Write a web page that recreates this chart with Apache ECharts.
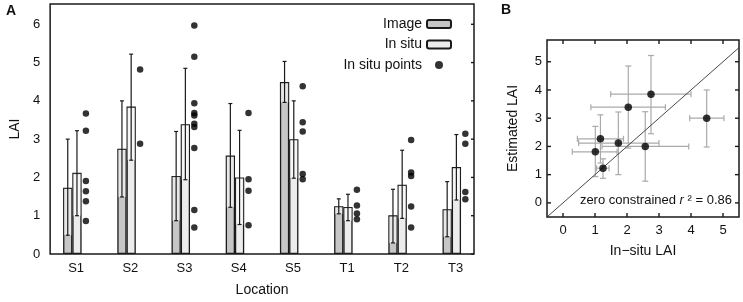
<!DOCTYPE html>
<html>
<head>
<meta charset="utf-8">
<script src="https://cdn.jsdelivr.net/npm/echarts@6/dist/echarts.min.js"></script>
<style>
  html, body { margin: 0; padding: 0; background: #fff; }
  #chart { width: 743px; height: 302px; }
</style>
</head>
<body>
<div id="chart"></div>
<script>
// locations on the x axis of panel A
const locations = ['S1', 'S2', 'S3', 'S4', 'S5', 'T1', 'T2', 'T3']

// image estimate: mean and error range
const imageMean = [1.73, 2.75, 2.04, 2.57, 4.49, 1.25, 1.01, 1.17]
const imageLow = [0.49, 1.49, 0.87, 1.22, 3.96, 1.05, 0.29, 0.45]
const imageHigh = [3.0, 4.0, 3.2, 3.93, 5.03, 1.44, 1.69, 1.89]

// in situ: mean and error range
const insituMean = [2.12, 3.85, 3.39, 2.0, 3.0, 1.23, 1.81, 2.27]
const insituLow = [1.0, 2.45, 1.94, 0.77, 1.98, 0.87, 0.93, 1.41]
const insituHigh = [3.22, 5.22, 4.85, 3.23, 4.0, 1.56, 2.71, 3.12]

// single in situ measurements per location
const insituPoints = [
  [3.67, 3.22, 1.91, 1.64, 1.38, 0.86],
  [4.82, 2.88],
  [5.97, 5.15, 3.94, 3.68, 3.62, 3.4, 3.32, 2.77, 1.15, 0.69],
  [3.68, 1.95, 1.65, 0.75],
  [4.38, 3.44, 3.2, 2.09, 1.95],
  [1.68, 1.27, 1.06, 0.91],
  [2.98, 2.13, 2.04, 1.24, 0.69],
  [3.14, 2.88, 1.62, 1.43]
]

// panel B: zero constrained fit (y = x)
const fitLine = [[-0.5, -0.5], [5.5, 5.5]]
const fitLabel = '0.86'

const tickA = [0, 1, 2, 3, 4, 5, 6]
const tickB = [0, 1, 2, 3, 4, 5]
const locTicks = [1, 2, 3, 4, 5, 6, 7, 8]

// offsets within a location group (axis units)
const imageOff = -0.155
const insituOff = 0.015
const pointsOff = 0.18
const BAR_W = 9.3

const FONT = '"Liberation Sans", Arial, sans-serif'
const INK = '#1a1a1a'

const imageBars = imageMean.map((v, i) => [locTicks[i] + imageOff, v])
const insituBars = insituMean.map((v, i) => [locTicks[i] + insituOff, v])
const imageErr = imageMean.map((v, i) => [locTicks[i] + imageOff, imageLow[i], imageHigh[i], v])
const insituErr = insituMean.map((v, i) => [locTicks[i] + insituOff, insituLow[i], insituHigh[i], v])
const pointData = []
insituPoints.forEach((list, i) => {
  list.forEach(v => pointData.push([locTicks[i] + pointsOff, v]))
})

const scatterB = imageMean.map((v, i) => [v, insituMean[i]])
const errB = imageMean.map((v, i) => [v, insituMean[i], imageLow[i], imageHigh[i], insituLow[i], insituHigh[i]])

// error bar for panel A, with a pale veil over the bar above the lower end
function renderErrA (params, api) {
  const x = api.value(0)
  const lo = api.coord([x, api.value(1)])
  const hi = api.coord([x, api.value(2)])
  const top = api.coord([x, api.value(3)])
  const cap = 2
  const lineStyle = { stroke: INK, lineWidth: 1.2 }
  return {
    type: 'group',
    children: [
      {
        type: 'rect',
        shape: { x: lo[0] - BAR_W / 2 + 1, y: top[1] + 1, width: BAR_W - 2, height: Math.max(0, lo[1] - top[1] - 1) },
        style: { fill: 'rgba(255,255,255,0.6)' }
      },
      { type: 'line', shape: { x1: lo[0], y1: lo[1], x2: hi[0], y2: hi[1] }, style: lineStyle },
      { type: 'line', shape: { x1: lo[0] - cap, y1: lo[1], x2: lo[0] + cap, y2: lo[1] }, style: lineStyle },
      { type: 'line', shape: { x1: hi[0] - cap, y1: hi[1], x2: hi[0] + cap, y2: hi[1] }, style: lineStyle }
    ]
  }
}

// cross error bars for panel B
function renderErrB (params, api) {
  const c = api.coord([api.value(0), api.value(1)])
  const xl = api.coord([api.value(2), api.value(1)])
  const xh = api.coord([api.value(3), api.value(1)])
  const yl = api.coord([api.value(0), api.value(4)])
  const yh = api.coord([api.value(0), api.value(5)])
  const cap = 3
  const st = { stroke: '#aaaaaa', lineWidth: 1.2 }
  return {
    type: 'group',
    children: [
      { type: 'line', shape: { x1: xl[0], y1: c[1], x2: xh[0], y2: c[1] }, style: st },
      { type: 'line', shape: { x1: xl[0], y1: c[1] - cap, x2: xl[0], y2: c[1] + cap }, style: st },
      { type: 'line', shape: { x1: xh[0], y1: c[1] - cap, x2: xh[0], y2: c[1] + cap }, style: st },
      { type: 'line', shape: { x1: c[0], y1: yl[1], x2: c[0], y2: yh[1] }, style: st },
      { type: 'line', shape: { x1: c[0] - cap, y1: yl[1], x2: c[0] + cap, y2: yl[1] }, style: st },
      { type: 'line', shape: { x1: c[0] - cap, y1: yh[1], x2: c[0] + cap, y2: yh[1] }, style: st }
    ]
  }
}

// inward tick marks on the box edges (gnuplot style)
function tickRenderer (dim, sides, len) {
  return function (params, api) {
    const r = params.coordSys
    const v = api.value(0)
    const st = { stroke: INK, lineWidth: 1.4 }
    const children = []
    if (dim === 'x') {
      const x = api.coord([v, 0])[0]
      if (sides.includes('bottom')) children.push({ type: 'line', shape: { x1: x, y1: r.y + r.height, x2: x, y2: r.y + r.height - len }, style: st })
      if (sides.includes('top')) children.push({ type: 'line', shape: { x1: x, y1: r.y, x2: x, y2: r.y + len }, style: st })
    } else {
      const y = api.coord([0, v])[1]
      if (sides.includes('left')) children.push({ type: 'line', shape: { x1: r.x, y1: y, x2: r.x + len, y2: y }, style: st })
      if (sides.includes('right')) children.push({ type: 'line', shape: { x1: r.x + r.width, y1: y, x2: r.x + r.width - len, y2: y }, style: st })
    }
    return { type: 'group', children }
  }
}

const chart = echarts.init(document.getElementById('chart'), null, { renderer: 'canvas' })

const labelStyle = { color: '#111', fontSize: 13, fontFamily: FONT }
const nameStyle = { color: '#111', fontSize: 14, fontFamily: FONT }
const noLine = { show: false, onZero: false }
const noSplit = { show: false }

chart.setOption({
  animation: false,
  backgroundColor: '#fff',
  textStyle: { fontFamily: FONT },
  grid: [
    { left: 41, right: 269, top: 4, bottom: 44, show: true, borderColor: INK, borderWidth: 1.5, backgroundColor: 'transparent' },
    { left: 547, right: 4, top: 40, bottom: 85, show: true, borderColor: INK, borderWidth: 1.5, backgroundColor: 'transparent' }
  ],
  legend: {
    orient: 'vertical',
    right: 286,
    top: 12,
    align: 'right',
    itemWidth: 24,
    itemHeight: 8,
    itemGap: 6.5,
    selectedMode: false,
    textStyle: { fontSize: 14, color: '#111', fontFamily: FONT },
    data: ['Image', 'In situ', 'In situ points']
  },
  xAxis: [
    {
      gridIndex: 0,
      type: 'value',
      min: 0.52,
      max: 8.34,
      axisLine: noLine,
      axisTick: { show: false },
      splitLine: noSplit,
      axisLabel: {
        ...labelStyle,
        margin: 8,
        customValues: locTicks,
        formatter: v => locations[Math.round(v) - 1]
      },
      name: 'Location',
      nameLocation: 'middle',
      nameGap: 29,
      nameTextStyle: nameStyle
    },
    {
      gridIndex: 1,
      type: 'value',
      min: -0.5,
      max: 5.5,
      axisLine: noLine,
      axisTick: { show: false },
      splitLine: noSplit,
      axisLabel: { ...labelStyle, margin: 7, customValues: tickB },
      name: 'In\u2212situ LAI',
      nameLocation: 'middle',
      nameGap: 27,
      nameTextStyle: nameStyle
    }
  ],
  yAxis: [
    {
      gridIndex: 0,
      type: 'value',
      min: 0,
      max: 6.53,
      axisLine: noLine,
      axisTick: { show: false },
      splitLine: noSplit,
      axisLabel: { ...labelStyle, margin: 10, customValues: tickA },
      name: 'LAI',
      nameLocation: 'middle',
      nameGap: 28,
      nameTextStyle: nameStyle
    },
    {
      gridIndex: 1,
      type: 'value',
      min: -0.5,
      max: 5.77,
      axisLine: noLine,
      axisTick: { show: false },
      splitLine: noSplit,
      axisLabel: { ...labelStyle, margin: 5, customValues: tickB },
      name: 'Estimated LAI',
      nameLocation: 'middle',
      nameGap: 27,
      nameTextStyle: nameStyle
    }
  ],
  graphic: [
    { type: 'text', left: 6, top: 4, style: { text: 'A', font: 'bold 14px ' + FONT, fill: '#111' } },
    { type: 'text', left: 501, top: 3, style: { text: 'B', font: 'bold 14px ' + FONT, fill: '#111' } },
    {
      type: 'text',
      right: 11,
      top: 194,
      style: {
        text: 'zero constrained {i|r} \u00b2 = ' + fitLabel,
        fontSize: 13,
        fontFamily: FONT,
        fill: '#111',
        rich: { i: { fontStyle: 'italic', fontSize: 13, fontFamily: FONT } }
      }
    }
  ],
  series: [
    {
      name: 'Image',
      type: 'bar',
      xAxisIndex: 0,
      yAxisIndex: 0,
      barWidth: BAR_W,
      barGap: '-100%',
      itemStyle: { color: '#c6c6c6', borderColor: INK, borderWidth: 1.3 },
      data: imageBars
    },
    {
      name: 'In situ',
      type: 'bar',
      xAxisIndex: 0,
      yAxisIndex: 0,
      barWidth: BAR_W,
      barGap: '-100%',
      itemStyle: { color: '#ececec', borderColor: INK, borderWidth: 1.3 },
      data: insituBars
    },
    {
      type: 'custom',
      xAxisIndex: 0,
      yAxisIndex: 0,
      renderItem: renderErrA,
      z: 3,
      data: imageErr
    },
    {
      type: 'custom',
      xAxisIndex: 0,
      yAxisIndex: 0,
      renderItem: renderErrA,
      z: 3,
      data: insituErr
    },
    {
      name: 'In situ points',
      type: 'scatter',
      xAxisIndex: 0,
      yAxisIndex: 0,
      symbolSize: 6.5,
      itemStyle: { color: '#000' },
      z: 4,
      data: pointData
    },
    {
      type: 'custom',
      xAxisIndex: 0,
      yAxisIndex: 0,
      renderItem: tickRenderer('y', ['right'], 3),
      silent: true,
      z: 5,
      data: tickA.map(v => [v])
    },
    {
      type: 'line',
      xAxisIndex: 1,
      yAxisIndex: 1,
      showSymbol: false,
      lineStyle: { color: '#333', width: 0.9 },
      clip: true,
      data: fitLine
    },
    {
      type: 'custom',
      xAxisIndex: 1,
      yAxisIndex: 1,
      renderItem: renderErrB,
      z: 3,
      data: errB
    },
    {
      type: 'scatter',
      xAxisIndex: 1,
      yAxisIndex: 1,
      symbolSize: 7.5,
      itemStyle: { color: '#000' },
      z: 4,
      data: scatterB
    },
    {
      type: 'custom',
      xAxisIndex: 1,
      yAxisIndex: 1,
      renderItem: tickRenderer('x', ['top', 'bottom'], 4),
      silent: true,
      z: 5,
      data: tickB.map(v => [v])
    },
    {
      type: 'custom',
      xAxisIndex: 1,
      yAxisIndex: 1,
      renderItem: tickRenderer('y', ['left', 'right'], 4),
      silent: true,
      z: 5,
      encode: { y: 0 },
      data: tickB.map(v => [v])
    }
  ]
})
</script>
</body>
</html>
